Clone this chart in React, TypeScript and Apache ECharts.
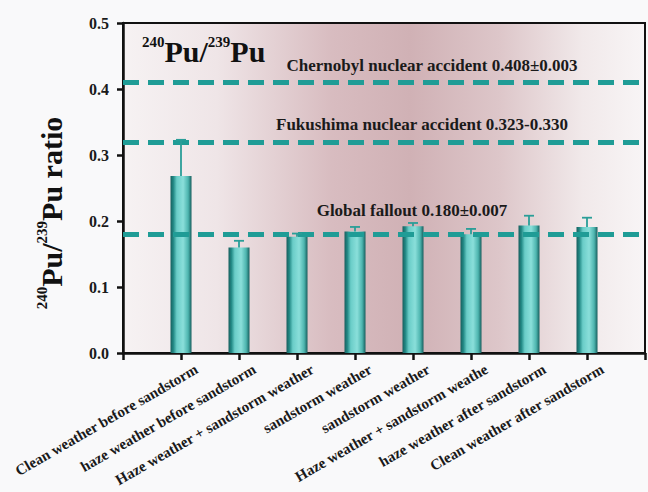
import React, { useEffect, useRef } from "react";
import * as echarts from "echarts";

// Sampling conditions (x axis) and measured 240Pu/239Pu atom ratios
const categories = [
  "Clean weather before sandstorm",
  "haze weather before sandstorm",
  "Haze weather + sandstorm weather",
  "sandstorm weather",
  "sandstorm weather",
  "Haze weather + sandstorm weathe",
  "haze weather after sandstorm",
  "Clean weather after sandstorm",
];
const ratioValues = [0.268, 0.16, 0.176, 0.184, 0.192, 0.18, 0.193, 0.191];
const ratioErrors = [0.055, 0.01, 0.005, 0.007, 0.005, 0.008, 0.015, 0.014];

// Reference source ratios drawn as dashed lines
const referenceNames = [
  "Chernobyl nuclear accident 0.408±0.003",
  "Fukushima nuclear accident 0.323-0.330",
  "Global fallout 0.180±0.007",
];
const referenceValues = [0.408, 0.323, 0.18];
const referenceLabelOffsets = [[48, -3], [38, -4], [28, -10]];

const yTicks = { min: 0, max: 0.5, interval: 0.1 };

const FONT = "'Liberation Serif', 'DejaVu Serif', serif";
const TEAL = "#1f9c96";

export default function App() {
  const ref = useRef<HTMLDivElement>(null);

  useEffect(() => {
    if (!ref.current) return;
    const chart = echarts.init(ref.current, undefined, { renderer: "svg" });

    // empty slots at both ends so bars sit on interior ticks
    const axisCats = ["", ...categories, ""];
    const barData: (number | string)[] = ["-", ...ratioValues, "-"];
    const errData = ratioValues.map((v, i) => [i + 1, v, ratioErrors[i]]);

    const barFill = new echarts.graphic.LinearGradient(0, 0, 1, 0, [
      { offset: 0, color: "#175f5e" },
      { offset: 0.14, color: "#238a86" },
      { offset: 0.3, color: "#6acdc8" },
      { offset: 0.6, color: "#8adfda" },
      { offset: 0.84, color: "#4db5af" },
      { offset: 1, color: "#175f5e" },
    ]);

    const supRich = (big: number, small: number, lh: number) => ({
      s: { fontFamily: FONT, fontWeight: "bold", fontSize: small, verticalAlign: "top", lineHeight: lh, fill: "#111" },
      b: { fontFamily: FONT, fontWeight: "bold", fontSize: big, verticalAlign: "bottom", lineHeight: lh, fill: "#111" },
    });

    const option: any = {
      animation: false,
      backgroundColor: "#f9f9fa",
      grid: {
        left: 123,
        right: 3,
        top: 23,
        bottom: 139,
        outerBoundsMode: "none",
        containLabel: false,
        show: true,
        borderColor: "#111",
        borderWidth: 2,
        backgroundColor: new echarts.graphic.LinearGradient(0, 0, 1, 0, [
          { offset: 0, color: "#f6f2f3" },
          { offset: 0.18, color: "#efe5e7" },
          { offset: 0.4, color: "#d8bcc0" },
          { offset: 0.55, color: "#d0b1b5" },
          { offset: 0.72, color: "#ddc6c9" },
          { offset: 0.88, color: "#f1e9ea" },
          { offset: 1, color: "#f8f5f6" },
        ]),
      },
      graphic: [
        {
          type: "text",
          left: 142,
          top: 34,
          style: { text: "{s|240}{b|Pu/}{s|239}{b|Pu}", rich: supRich(30, 15, 32) },
        },
        {
          type: "text",
          x: 50,
          y: 213,
          rotation: Math.PI / 2,
          style: {
            text: "{s|240}{b|Pu/}{s|239}{b|Pu ratio}",
            rich: supRich(30, 15, 32),
            align: "center",
            verticalAlign: "middle",
          },
        },
      ],
      xAxis: {
        type: "category",
        data: axisCats,
        boundaryGap: false,
        axisLine: { lineStyle: { color: "#111", width: 2.5 } },
        axisTick: { length: 7, interval: 0, lineStyle: { color: "#111", width: 2.5 } },
        axisLabel: {
          interval: 0,
          rotate: 30,
          margin: 24,
          fontFamily: FONT,
          fontWeight: "bold",
          fontSize: 15,
          color: "#1a1a1a",
          padding: [0, -18, 0, 0],
        },
        splitLine: { show: false },
      },
      yAxis: {
        type: "value",
        min: yTicks.min,
        max: yTicks.max,
        interval: yTicks.interval,
        axisLine: { show: true, lineStyle: { color: "#111", width: 2.5 } },
        axisTick: { show: true, length: 6, lineStyle: { color: "#111", width: 2.5 } },
        axisLabel: {
          margin: 14,
          fontFamily: FONT,
          fontWeight: "bold",
          fontSize: 16,
          color: "#1a1a1a",
          formatter: (v: number) => v.toFixed(1),
        },
        splitLine: { show: false },
      },
      series: [
        {
          type: "bar",
          data: barData,
          barWidth: 21,
          itemStyle: { color: barFill },
          z: 2,
          markLine: {
            silent: true,
            symbol: "none",
            z: 3,
            lineStyle: { color: TEAL, width: 5, type: [16, 9] },
            data: referenceValues.map((v, i) => ({
              yAxis: v,
              label: {
                show: true,
                formatter: referenceNames[i],
                position: "insideMiddleTop",
                offset: referenceLabelOffsets[i],
                fontFamily: FONT,
                fontWeight: "bold",
                fontSize: 17,
                color: "#1a1a1a",
              },
            })),
          },
        },
        {
          type: "custom",
          z: 4,
          data: errData,
          encode: { x: 0, y: 1 },
          renderItem: (params: any, api: any) => {
            const x = api.value(0);
            const v = api.value(1);
            const e = api.value(2);
            const base = api.coord([x, v]);
            const top = api.coord([x, v + e]);
            const cap = 5;
            return {
              type: "group",
              children: [
                {
                  type: "line",
                  shape: { x1: base[0], y1: base[1], x2: top[0], y2: top[1] },
                  style: { stroke: "#2a9e98", lineWidth: 1.8 },
                },
                {
                  type: "line",
                  shape: { x1: top[0] - cap, y1: top[1], x2: top[0] + cap, y2: top[1] },
                  style: { stroke: "#2a9e98", lineWidth: 1.8 },
                },
              ],
            };
          },
        },
      ],
    };

    chart.setOption(option);
    return () => chart.dispose();
  }, []);

  return (
    <div
      ref={ref}
      style={{ position: "fixed", left: 0, top: 0, width: 648, height: 492 }}
    />
  );
}
